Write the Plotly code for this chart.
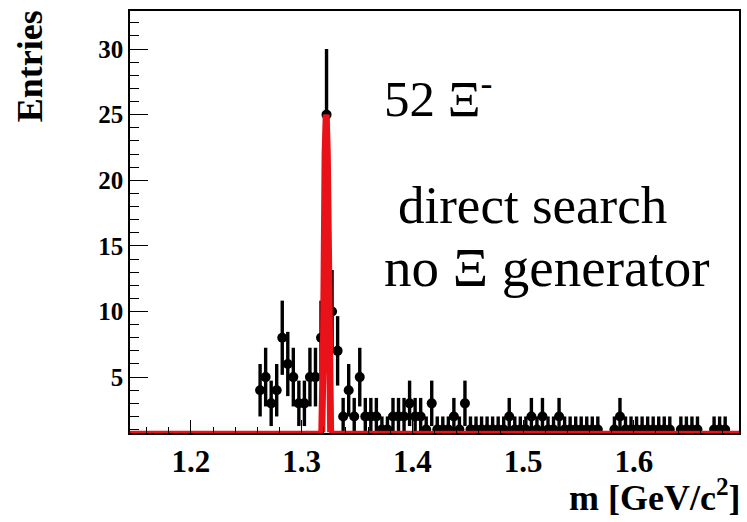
import numpy as np
import plotly.graph_objects as go

# ---- data (bin centres in GeV/c^2, entries per bin) ----
mass = [1.2625, 1.2675, 1.2725, 1.2775, 1.2825, 1.2875, 1.2925, 1.2975, 1.3025, 1.3075,
        1.3125, 1.3175, 1.3225, 1.3275, 1.3325, 1.3375, 1.3425, 1.3475, 1.3525, 1.3575,
        1.3625, 1.3675, 1.3725, 1.3775, 1.3825, 1.3875, 1.3925, 1.3975, 1.4025, 1.4075,
        1.4125, 1.4175, 1.4225, 1.4275, 1.4325, 1.4375, 1.4425, 1.4475, 1.4525, 1.4575,
        1.4625, 1.4675, 1.4725, 1.4775, 1.4825, 1.4875, 1.4925, 1.4975, 1.5025, 1.5075,
        1.5125, 1.5175, 1.5225, 1.5275, 1.5325, 1.5375, 1.5425, 1.5475, 1.5525, 1.5575,
        1.5625, 1.5675, 1.5825, 1.5875, 1.5925, 1.5975, 1.6025, 1.6075, 1.6125, 1.6175,
        1.6225, 1.6275, 1.6325, 1.6425, 1.6475, 1.6525, 1.6575, 1.6725, 1.6775, 1.6825]
entries = [4, 5, 3, 4, 8, 6, 5, 3, 3, 5,
           5, 8, 25, 10, 7, 2, 4, 2, 5, 2,
           2, 2, 1, 1, 2, 2, 2, 3, 2, 2,
           1, 3, 1, 1, 1, 2, 1, 3, 1, 1,
           1, 1, 1, 1, 1, 2, 1, 1, 1, 2,
           1, 2, 1, 1, 2, 1, 1, 1, 1, 1,
           1, 1, 1, 2, 1, 1, 1, 1, 1, 1,
           1, 1, 1, 1, 1, 1, 1, 1, 1, 1]
bin_half_width = 0.0025

fit_x = [1.145, 1.3182, 1.3198, 1.3212, 1.3222, 1.3232, 1.3246, 1.3262, 1.695]
fit_y = [0.8, 0.8, 8.0, 22.0, 25.0, 22.0, 8.0, 0.8, 0.8]

x_tick_vals = [1.2, 1.3, 1.4, 1.5, 1.6]
x_tick_text = ["1.2", "1.3", "1.4", "1.5", "1.6"]
y_tick_vals = [5, 10, 15, 20, 25, 30]
y_tick_text = ["5", "10", "15", "20", "25", "30"]

errors = np.sqrt(np.array(entries, dtype=float))

RED = "rgb(232,18,24)"
SERIF = "Liberation Serif"

fig = go.Figure()
fig.add_trace(go.Scatter(
    x=mass, y=entries, mode="markers",
    marker=dict(color="black", size=10, symbol="circle", line=dict(width=0)),
    error_y=dict(type="data", array=errors, color="black", thickness=3.4, width=0),
    error_x=dict(type="constant", value=bin_half_width, color="black", thickness=3, width=0),
    showlegend=False, hoverinfo="skip"))

# full fit line (thin) and the peak part drawn thicker
fig.add_trace(go.Scatter(x=fit_x, y=fit_y, mode="lines",
                         line=dict(color=RED, width=3), showlegend=False, hoverinfo="skip"))
peak_x = fit_x[1:-1]
peak_y = fit_y[1:-1]
fig.add_trace(go.Scatter(x=peak_x, y=peak_y, mode="lines",
                         line=dict(color=RED, width=7), showlegend=False, hoverinfo="skip"))

fig.update_layout(
    width=747, height=522,
    margin=dict(l=130, r=6, t=11, b=89),
    paper_bgcolor="white", plot_bgcolor="white",
    font=dict(family=SERIF, color="black"),
    xaxis=dict(range=[1.145, 1.695], showgrid=False, zeroline=False,
               showline=True, linecolor="black", linewidth=1.5, mirror=True,
               ticks="inside", ticklen=13, tickwidth=1.3, tickcolor="black",
               tickvals=x_tick_vals, ticktext=x_tick_text,
               tickfont=dict(family=SERIF, size=31, color="black", weight="bold"),
               minor=dict(dtick=0.02, tick0=1.2, ticks="inside", ticklen=6.5,
                          tickwidth=1.3, tickcolor="black", showgrid=False)),
    yaxis=dict(range=[0.74, 32.9], showgrid=False, zeroline=False,
               showline=True, linecolor="black", linewidth=1.5, mirror=True,
               ticks="inside", ticklen=18, tickwidth=1.3, tickcolor="black",
               tickvals=y_tick_vals, ticktext=y_tick_text,
               tickfont=dict(family=SERIF, size=25, color="black", weight="bold"),
               minor=dict(dtick=1, tick0=0, ticks="inside", ticklen=9,
                          tickwidth=1.3, tickcolor="black", showgrid=False)),
    annotations=[
        dict(text="<b>Entries</b>", xref="paper", yref="paper",
             x=-0.164, y=1.007, xanchor="center", yanchor="top", textangle=-90,
             showarrow=False, font=dict(family=SERIF, size=36, color="black")),
        dict(text="<b>m [GeV/c<sup>2</sup>]</b>", xref="paper", yref="paper",
             x=1.0065, y=-0.147, xanchor="right", yanchor="middle",
             showarrow=False, font=dict(family=SERIF, size=36, color="black")),
        dict(text="52 Ξ<sup>-</sup>", xref="paper", yref="paper",
             x=0.414, y=0.801, xanchor="left", yanchor="middle",
             showarrow=False, font=dict(family=SERIF, size=51, color="black")),
        dict(text="direct search", xref="paper", yref="paper",
             x=0.437, y=0.540, xanchor="left", yanchor="middle",
             showarrow=False, font=dict(family=SERIF, size=53, color="black")),
        dict(text="no Ξ generator", xref="paper", yref="paper",
             x=0.414, y=0.393, xanchor="left", yanchor="middle",
             showarrow=False, font=dict(family=SERIF, size=55, color="black")),
    ],
)

fig.write_html("out.html")
